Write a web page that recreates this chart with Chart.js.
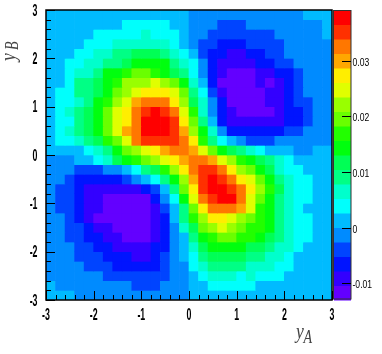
<!DOCTYPE html>
<html>
<head>
<meta charset="utf-8">
<script src="https://cdn.jsdelivr.net/npm/chart.js@4.4.0/dist/chart.umd.min.js"></script>
<style>
  html, body { margin: 0; padding: 0; background: #fff; }
  #wrap { width: 382px; height: 354px; }
</style>
</head>
<body>
<div id="wrap"><canvas id="graficoMapa" width="382" height="354"></canvas></div>
<script>
/* mapa 2D (estilo COLZ) */

// bordas dos bins, iguais em x e y
const binEdges = [-3, -2.8, -2.6, -2.4, -2.2, -2, -1.8, -1.6, -1.4, -1.2, -1, -0.8, -0.6, -0.4, -0.2, 0,
                  0.2, 0.4, 0.6, 0.8, 1, 1.2, 1.4, 1.6, 1.8, 2, 2.2, 2.4, 2.6, 2.8, 3];
const axisTicks = [-3, -2, -1, 0, 1, 2, 3];
const paletteTicks = [-0.01, 0, 0.01, 0.02, 0.03];
const paletteLabels = ['-0.01', '0', '0.01', '0.02', '0.03'];
const zMin = -0.01298;
const zMax = 0.03908;
const nNiveis = 20;

// conteudo dos bins em unidades de 1e-4; linha 0 = topo (yB de 2.8 a 3)
const zRows = [
  [13,13,13,13,13,13,13,13,13,13,13,13,13,13,13,-13,-13,-13,-13,-13,-13,-13,-13,-13,-13,-13,-13,13,13,13],
  [13,13,13,13,13,13,13,13,39,39,39,39,39,13,13,-13,-13,-13,-39,-39,-39,-13,-13,-13,-13,-13,-13,-13,-13,13],
  [13,13,13,13,13,39,39,39,39,39,65,39,39,39,13,-13,-13,-39,-39,-39,-39,-39,-39,-39,-13,-13,-13,-13,-13,13],
  [13,13,13,13,39,39,39,65,65,65,65,65,65,39,13,-13,-39,-39,-65,-65,-65,-39,-39,-39,-39,-13,-13,-13,-13,-13],
  [13,13,13,39,39,65,65,91,91,117,117,117,91,65,39,13,-39,-65,-65,-91,-91,-65,-65,-39,-39,-13,-13,-13,-13,-13],
  [13,13,39,39,65,65,91,91,117,143,143,143,143,91,65,39,-13,-65,-91,-91,-91,-91,-65,-65,-39,-39,-13,-13,-13,-13],
  [13,13,39,65,65,91,143,143,170,196,196,170,143,117,91,39,-13,-65,-91,-117,-117,-117,-91,-91,-65,-65,-39,-13,-13,-13],
  [13,13,39,91,91,117,143,170,222,222,222,248,222,196,143,65,13,-65,-117,-117,-117,-117,-91,-117,-91,-65,-39,-13,-13,-13],
  [13,39,39,91,91,117,143,196,222,248,274,274,274,248,196,91,39,-39,-91,-117,-117,-117,-117,-91,-91,-65,-39,-13,-13,-13],
  [13,39,39,65,91,143,170,222,248,300,326,326,326,274,222,117,65,-13,-65,-117,-117,-117,-117,-91,-91,-65,-39,-39,-13,-13],
  [13,39,65,91,117,143,196,248,274,326,352,378,352,326,248,170,65,-13,-65,-91,-117,-117,-117,-117,-91,-65,-65,-39,-13,-13],
  [13,39,39,91,117,143,196,248,274,326,378,378,378,352,274,196,91,13,-65,-91,-91,-91,-91,-91,-91,-65,-65,-39,-13,-13],
  [13,39,65,91,117,143,196,248,300,326,378,378,378,352,300,222,143,65,-13,-65,-65,-65,-65,-65,-65,-39,-39,-13,-13,-13],
  [13,39,39,65,91,117,170,196,248,326,352,352,352,352,326,274,170,91,39,13,-13,-39,-39,-39,-13,-13,-13,-13,-13,-13],
  [13,13,13,13,39,65,91,143,196,222,248,274,300,326,326,300,248,196,143,117,91,65,39,13,13,13,-13,-13,13,13],
  [-13,-13,-13,13,13,39,65,117,143,170,196,222,248,274,300,326,326,300,248,222,170,143,117,91,65,39,13,13,13,13],
  [-13,-13,-13,-39,-39,-39,-13,-13,13,39,91,117,170,222,274,326,352,352,326,274,222,196,143,117,65,39,39,13,13,13],
  [-13,-13,-39,-65,-65,-65,-65,-65,-39,-13,13,39,91,143,222,300,352,378,352,326,274,248,196,143,91,65,39,39,13,13],
  [-13,-39,-39,-65,-91,-91,-91,-91,-91,-91,-65,-39,13,91,196,274,352,378,378,352,326,274,222,170,117,65,39,39,13,13],
  [-13,-39,-39,-65,-91,-91,-117,-117,-117,-117,-117,-65,-13,39,143,248,326,352,378,378,326,248,196,143,91,65,39,39,13,13],
  [-13,-39,-39,-65,-91,-91,-117,-117,-117,-117,-117,-91,-39,13,91,196,274,326,326,326,300,248,170,143,91,65,39,13,13,13],
  [-13,-13,-39,-65,-91,-117,-117,-117,-117,-117,-117,-91,-65,13,91,170,222,274,274,248,222,196,170,143,91,65,39,39,13,13],
  [-13,-13,-39,-39,-65,-91,-91,-117,-117,-117,-117,-91,-65,-13,65,117,196,222,248,222,196,170,170,143,91,65,39,39,13,13],
  [-13,-13,-39,-39,-65,-65,-91,-91,-117,-117,-117,-91,-65,-13,13,91,143,170,196,196,170,170,143,117,91,65,39,39,13,13],
  [-13,-13,-13,-39,-39,-65,-65,-91,-91,-91,-91,-65,-65,-13,13,65,117,143,143,143,143,117,117,91,65,65,39,13,13,13],
  [-13,-13,-13,-39,-39,-39,-65,-65,-65,-91,-91,-65,-39,-13,13,39,91,117,117,117,117,91,91,65,65,39,13,13,13,13],
  [-13,-13,-13,-13,-39,-39,-39,-65,-65,-65,-65,-65,-39,-13,-13,39,65,91,91,91,91,65,65,65,39,39,13,13,13,13],
  [-13,-13,-13,-13,-13,-13,-39,-39,-39,-39,-39,-39,-39,-13,-13,13,39,65,65,65,39,65,39,39,39,13,13,13,13,13],
  [13,-13,-13,-13,-13,-13,-13,-13,-13,-39,-39,-39,-13,-13,-13,13,13,39,39,39,39,39,13,13,13,13,13,13,13,13],
  [13,13,13,-13,-13,-13,-13,-13,-13,-13,-13,-13,-13,-13,-13,13,13,13,13,13,13,13,13,13,13,13,13,13,13,13]
];

document.addEventListener("DOMContentLoaded", function () {
    const dz = (zMax - zMin) / nNiveis;

    // paleta "pretty" do ROOT (violeta -> vermelho), 50 cores, 20 contornos
    function corDoNivel(k) {
        const idx = Math.floor((k + 0.99) * 50 / nNiveis);
        const hue = 280 - (idx + 1) * 5.6;
        return 'hsl(' + hue.toFixed(1) + ', 100%, 50%)';
    }

    function nivelDoValor(v) {
        const k = Math.floor((v - zMin) / dz);
        return Math.max(0, Math.min(nNiveis - 1, k));
    }

    // texto comprimido na horizontal, como na figura original
    function textoEstreito(ctx, txt, x, y, escala, align) {
        ctx.save();
        ctx.translate(x, y);
        ctx.scale(escala, 1);
        ctx.textAlign = align;
        ctx.fillText(txt, 0, 0);
        ctx.restore();
    }

    const nBins = binEdges.length - 1;

    // uma serie de barras flutuantes por linha do mapa
    const datasets = zRows.map(function (linha, j) {
        const yHi = binEdges[nBins - j];
        const yLo = binEdges[nBins - j - 1];
        return {
            data: linha.map((v, i) => ({ x: (binEdges[i] + binEdges[i + 1]) / 2, y: [yLo, yHi] })),
            backgroundColor: linha.map(v => corDoNivel(nivelDoValor(v * 1e-4))),
            borderWidth: 0,
            grouped: false,
            barPercentage: 1,
            categoryPercentage: 1
        };
    });

    const molduraPlugin = {
        id: 'moldura',
        afterDraw(chart) {
            const ctx = chart.ctx;
            const area = chart.chartArea;
            const sx = chart.scales.x;
            const sy = chart.scales.y;
            const sz = chart.scales.zAxis;

            ctx.save();
            // ticks secundarios e principais, para dentro
            ctx.strokeStyle = '#000';
            ctx.lineWidth = 1;
            ctx.beginPath();
            binEdges.forEach(function (v) {
                const major = axisTicks.indexOf(v) >= 0;
                const len = major ? 9 : 5;
                const px = Math.round(sx.getPixelForValue(v)) + 0.5;
                ctx.moveTo(px, area.bottom);
                ctx.lineTo(px, area.bottom - len);
                const py = Math.round(sy.getPixelForValue(v)) + 0.5;
                ctx.moveTo(area.left, py);
                ctx.lineTo(area.left + len, py);
            });
            ctx.stroke();

            // moldura
            ctx.lineWidth = 1.5;
            ctx.strokeRect(area.left, area.top, area.right - area.left, area.bottom - area.top);

            // rotulos dos eixos
            ctx.fillStyle = '#000';
            ctx.font = 'bold 16px "Liberation Sans", Arial, sans-serif';
            axisTicks.forEach(function (v) {
                textoEstreito(ctx, String(v), sx.getPixelForValue(v), 319.5, 0.55, 'center');
                textoEstreito(ctx, String(v), 37.5, sy.getPixelForValue(v) + 5.8, 0.55, 'right');
            });

            // paleta de cores
            const bx = 334, bw = 17;
            for (let k = 0; k < nNiveis; k++) {
                const yTop = sz.getPixelForValue(zMin + (k + 1) * dz);
                const yBot = sz.getPixelForValue(zMin + k * dz);
                ctx.fillStyle = corDoNivel(k);
                ctx.fillRect(bx, yTop, bw, yBot - yTop + 0.5);
            }
            ctx.lineWidth = 1;
            ctx.strokeStyle = '#333';
            ctx.strokeRect(bx - 0.5, sz.top + 0.5, bw + 0.5, sz.bottom - sz.top - 1.5);

            ctx.strokeStyle = '#000';
            ctx.fillStyle = '#000';
            ctx.font = '11px "Liberation Sans", Arial, sans-serif';
            paletteTicks.forEach(function (v, n) {
                const py = Math.round(sz.getPixelForValue(v)) + 0.5;
                ctx.beginPath();
                ctx.moveTo(bx + bw, py);
                ctx.lineTo(bx + bw - 9, py);
                ctx.stroke();
                textoEstreito(ctx, paletteLabels[n], bx + bw + 1.5, py + 4, 0.78, 'left');
            });

            // titulos dos eixos
            ctx.fillStyle = '#444';
            ctx.font = 'italic 22px "Liberation Serif", "DejaVu Serif", serif';
            textoEstreito(ctx, 'y', 296, 337.5, 0.8, 'left');
            ctx.font = 'italic 18px "Liberation Serif", "DejaVu Serif", serif';
            textoEstreito(ctx, 'A', 303.5, 343, 0.78, 'left');

            ctx.save();
            ctx.translate(15, 61);
            ctx.rotate(-Math.PI / 2);
            ctx.font = 'italic 22px "Liberation Serif", "DejaVu Serif", serif';
            textoEstreito(ctx, 'y', 0, 0, 0.8, 'left');
            ctx.font = 'italic 18px "Liberation Serif", "DejaVu Serif", serif';
            textoEstreito(ctx, 'B', 11, 3, 0.78, 'left');
            ctx.restore();

            ctx.restore();
        }
    };

    const ctx = document.getElementById('graficoMapa').getContext('2d');
    new Chart(ctx, {
        type: 'bar',
        data: { datasets: datasets },
        options: {
            responsive: false,
            animation: false,
            events: [],
            layout: { padding: { left: 46, right: 50, top: 10, bottom: 54 } },
            plugins: {
                legend: { display: false },
                tooltip: { enabled: false }
            },
            scales: {
                x: { type: 'linear', min: -3, max: 3, offset: false, display: false, ticks: { stepSize: 1 } },
                y: { type: 'linear', min: -3, max: 3, display: false, ticks: { stepSize: 1 } },
                zAxis: { type: 'linear', axis: 'y', position: 'right', min: zMin, max: zMax, display: false }
            }
        },
        plugins: [molduraPlugin]
    });
});
</script>
</body>
</html>
